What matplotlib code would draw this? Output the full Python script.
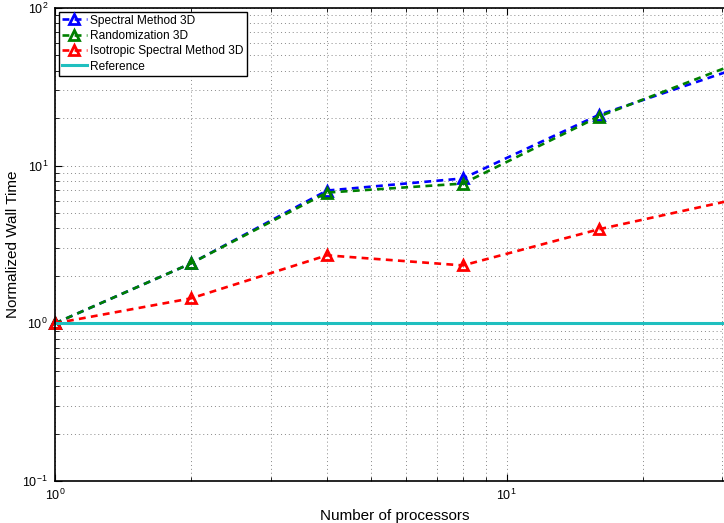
import matplotlib
matplotlib.use("Agg")
import matplotlib.pyplot as plt

plt.rcParams["font.family"] = ["Liberation Sans", "DejaVu Sans"]

procs = [1, 2, 4, 8, 16, 32]
spectral = [1.0, 2.40, 6.95, 8.3, 21.0, 41.0]
randomization = [1.0, 2.40, 6.75, 7.7, 20.5, 44.0]
isotropic = [1.0, 1.44, 2.70, 2.33, 3.95, 6.1]
reference = [1.0, 1.0, 1.0, 1.0, 1.0, 1.0]

fig = plt.figure(figsize=(7.24, 5.23), dpi=100)
fig.patch.set_facecolor("white")
# axes run a bit past the right edge, as in the original export
ax = fig.add_axes([0.076, 0.0803, 0.939, 0.9044])

style = dict(linestyle="--", dashes=(2.6, 2.0), linewidth=1.9, marker="^",
             markersize=7, markerfacecolor="none", markeredgewidth=2.0,
             clip_on=False)
ax.plot(procs, spectral, color="#0000ff", label="Spectral Method 3D", **style)
ax.plot(procs, randomization, color="#008000", label="Randomization 3D", **style)
ax.plot(procs, isotropic, color="#ff0000", label="Isotropic Spectral Method 3D", **style)
ax.plot(procs, reference, color="#1fbfbf", linewidth=2.2, label="Reference")

ax.set_xscale("log")
ax.set_yscale("log")
ax.set_xlim(1, 32)
ax.set_ylim(0.1, 100)

ax.grid(True, which="both", linestyle=(0, (1, 3)), color="#888888", linewidth=0.7)
ax.tick_params(which="both", direction="in", labelsize=9, top=True, right=True)
ax.tick_params(which="major", length=5, pad=5)
ax.tick_params(which="minor", length=3)
for s in ax.spines.values():
    s.set_linewidth(1.2)

ax.set_xlabel("Number of processors", fontsize=11)
ax.set_ylabel("Normalized Wall Time", fontsize=11)
ax.yaxis.set_label_coords(-0.052, 0.5)

leg = ax.legend(loc="upper left", fontsize=8.6, fancybox=False, framealpha=1,
                edgecolor="black", borderpad=0.25, labelspacing=0.28,
                handlelength=2.1, handletextpad=0.3, borderaxespad=0.3)
leg.get_frame().set_linewidth(1.0)

fig.savefig("out.png", dpi=100)
